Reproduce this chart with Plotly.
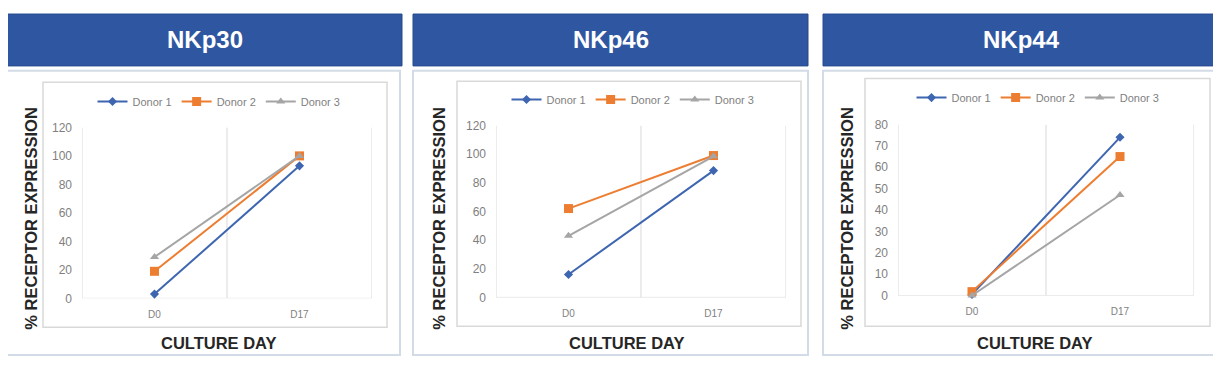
import plotly.graph_objects as go

# The page body has an 8px margin on every side; the figure is sized so the
# page is exactly the window size, and coordinates are offset to compensate.
OFF = 8
W, H = 1221 - 2 * OFF, 371 - 2 * OFF

days = ["D0", "D17"]
donors = ["Donor 1", "Donor 2", "Donor 3"]
panel_titles = ["NKp30", "NKp46", "NKp44"]

nkp30 = {"Donor 1": [3, 93], "Donor 2": [19, 100], "Donor 3": [29, 100]}
nkp46 = {"Donor 1": [16, 88.5], "Donor 2": [62, 99], "Donor 3": [43, 98.5]}
nkp44 = {"Donor 1": [0.5, 74], "Donor 2": [1.8, 65], "Donor 3": [0, 47]}
panel_data = [nkp30, nkp46, nkp44]

y_max = [120, 120, 80]
y_step = [20, 20, 10]

colors = {"Donor 1": "#3E66B0", "Donor 2": "#ED7D31", "Donor 3": "#A5A5A5"}
symbols = {"Donor 1": "diamond", "Donor 2": "square", "Donor 3": "triangle-up"}
msizes = {"Donor 1": 7, "Donor 2": 9, "Donor 3": 8}

# layout geometry (window pixels)
headers = [(7, 402), (413, 808), (823, 1219)]
cards = [(7, 66, 400, 362), (413, 66, 808, 362), (823, 66, 1216, 362)]
inner = [(43, 78, 387, 333), (457, 77, 801, 332), (865, 74, 1210, 332)]
plots = [(82, 125, 372, 303), (496, 123, 786, 302), (898, 122, 1194, 300)]
ytitle_x = [31, 439, 847]
xtitle_x = [219, 627, 1035]
legend_y = [98, 96, 94]

def px(x):
    return (x - OFF) / W

def py(y):
    return 1 - (y - OFF) / H

fig = go.Figure()
shapes = []
annotations = []
HEADER_BLUE = "#2F56A0"
FONT = "Liberation Sans"

for i in range(3):
    xa = "x" if i == 0 else f"x{i+1}"
    ya = "y" if i == 0 else f"y{i+1}"
    leg = "legend" if i == 0 else f"legend{i+1}"
    for d in donors:
        fig.add_trace(go.Scatter(
            x=days, y=panel_data[i][d], name=d, mode="lines+markers",
            line=dict(color=colors[d], width=2),
            marker=dict(symbol=symbols[d], size=msizes[d], color=colors[d]),
            xaxis=xa, yaxis=ya, legend=leg, showlegend=True, cliponaxis=False,
        ))
    x0, y0, x1, y1 = plots[i]
    axkey = "xaxis" if i == 0 else f"xaxis{i+1}"
    aykey = "yaxis" if i == 0 else f"yaxis{i+1}"
    fig.update_layout(**{
        axkey: dict(domain=[px(x0), px(x1)], anchor=ya, type="category",
                    range=[-0.5, 1.5], showgrid=False, zeroline=False,
                    showline=False, ticks="",
                    tickfont=dict(family=FONT, size=10, color="#7f7f7f"),
                    ticklabelstandoff=9),
        aykey: dict(domain=[py(y1), py(y0)], anchor=xa, range=[0, y_max[i]],
                    dtick=y_step[i], showgrid=False, zeroline=False,
                    showline=False, ticks="",
                    tickfont=dict(family=FONT, size=12, color="#7f7f7f"),
                    ticklabelstandoff=9),
    })
    fig.update_layout(**{leg: dict(
        orientation="h", x=px((x0 + x1) / 2 - 8), y=py(legend_y[i]),
        xanchor="center", yanchor="middle", bgcolor="rgba(0,0,0,0)",
        font=dict(family=FONT, size=11, color="#7f7f7f"),
        tracegroupgap=0,
    )})
    # header
    hx0, hx1 = headers[i]
    shapes.append(dict(type="rect", xref="paper", yref="paper",
                       x0=px(hx0), x1=px(hx1), y0=py(61), y1=py(7),
                       fillcolor=HEADER_BLUE, line=dict(color="#244a8f", width=1), layer="below"))
    annotations.append(dict(text="<b>" + panel_titles[i] + "</b>", xref="paper", yref="paper",
                            x=px((hx0 + hx1) / 2), y=py(34), showarrow=False,
                            xanchor="center", yanchor="middle",
                            font=dict(family=FONT, size=24, color="white")))
    # card border
    cx0, cy0, cx1, cy1 = cards[i]
    shapes.append(dict(type="rect", xref="paper", yref="paper",
                       x0=px(cx0), x1=px(cx1), y0=py(cy1), y1=py(cy0),
                       fillcolor="white", line=dict(color="#d3dbe6", width=2), layer="below"))
    # inner chart border
    ix0, iy0, ix1, iy1 = inner[i]
    shapes.append(dict(type="rect", xref="paper", yref="paper",
                       x0=px(ix0), x1=px(ix1), y0=py(iy1), y1=py(iy0),
                       line=dict(color="#d9d9d9", width=1.5), layer="below"))
    # vertical gridlines at category boundaries and bottom axis line
    for b in [-0.5, 0.5, 1.5]:
        shapes.append(dict(type="line", xref=xa, yref=ya, x0=b, x1=b, y0=0, y1=y_max[i],
                           line=dict(color="#d9d9d9", width=1), layer="below"))
    shapes.append(dict(type="line", xref=xa, yref=ya, x0=-0.5, x1=1.5, y0=0, y1=0,
                       line=dict(color="#d9d9d9", width=1), layer="below"))
    # axis titles
    annotations.append(dict(text="<b>% RECEPTOR EXPRESSION</b>", xref="paper", yref="paper",
                            x=px(ytitle_x[i]), y=py(220), showarrow=False,
                            textangle=-90, xanchor="center", yanchor="middle",
                            font=dict(family=FONT, size=16.5, color="#262626")))
    annotations.append(dict(text="<b>CULTURE DAY</b>", xref="paper", yref="paper",
                            x=px(xtitle_x[i]), y=py(349), showarrow=False,
                            xanchor="center", yanchor="middle",
                            font=dict(family=FONT, size=16.5, color="#262626")))

fig.update_layout(width=W, height=H, margin=dict(l=0, r=0, t=0, b=0),
                  paper_bgcolor="white", plot_bgcolor="rgba(0,0,0,0)",
                  shapes=shapes, annotations=annotations)

fig.write_html("out.html")
